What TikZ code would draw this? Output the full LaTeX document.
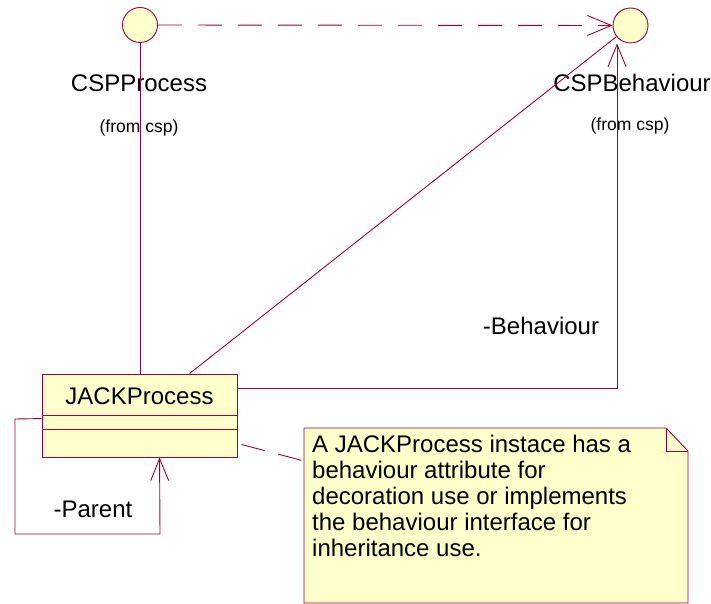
\documentclass[tikz,border=0pt]{standalone}
\usepackage{fontspec}
\setmainfont{Liberation Sans}
\usetikzlibrary{shapes.geometric,arrows.meta,calc}
\definecolor{umlline}{RGB}{160,0,55}
\definecolor{umlfill}{RGB}{255,255,204}
\begin{document}
\begin{tikzpicture}[x=1pt,y=-1pt,
  line/.style={draw=umlline, line width=0.9pt},
  iface/.style={circle, draw=umlline, fill=umlfill, line width=0.9pt, minimum size=35pt, inner sep=0pt},
  classbox/.style={rectangle, draw=umlline, fill=umlfill, line width=0.9pt, minimum width=195pt, minimum height=83pt, inner sep=0pt},
  lbl/.style={font=\fontsize{24}{26}\selectfont, inner sep=0pt, anchor=base},
  small/.style={font=\fontsize{17.5}{20}\selectfont, inner sep=0pt, anchor=base},
  barb/.style={-{Straight Barb[length=24pt,width=20pt]}},
  notetxt/.style={font=\fontsize{24}{26}\selectfont, inner sep=0pt, anchor=north west, align=left}
]
\useasboundingbox (0,0) rectangle (711,604);
% interfaces
\node[iface] (cspp) at (140,25) {};
\node[iface] (cspb) at (630.5,25.5) {};
\node[lbl] (lp) at (139,92) {CSPProcess};
\node[small] (fp) at (139,133) {(from csp)};
\node[lbl] (lb) at (632,92) {CSPBehaviour};
\node[small] (fb) at (630,131) {(from csp)};
% class
\node[classbox] (jack) at (139.5,415.5) {};
\node[lbl] (jn) at (139.5,404) {JACKProcess};
\draw[line] ($(jack.north west)+(0,42)$) -- ($(jack.north east)+(0,42)$);
\draw[line] ($(jack.north west)+(0,56)$) -- ($(jack.north east)+(0,56)$);
% note
\draw[line, fill=umlfill] (304,428) -- (666,428) -- (688,451) -- (688,603) -- (304,603) -- cycle;
\draw[line] (666,428) -- (666,451) -- (688,451);
\node[notetxt] (note) at (312,435) {A JACKProcess instace has a\\behaviour attribute for\\decoration use or implements\\the behaviour interface for\\inheritance use.};
\coordinate (nw) at (304,461);
% connectors
\draw[line, dash pattern=on 24pt off 16pt, barb] (cspp.east) -- (cspb.west);
\draw[line] (cspp.south) -- (cspp.south |- jack.north);
\coordinate (jtop) at ($(jack.north west)+(148,0)$);
\draw[line] (jtop) -- (cspb);
\coordinate (jr) at ($(jack.north east)+(0,15)$);
\coordinate (bt) at ($(cspb.south)+(-13.5,0)$);
\draw[line, -{Straight Barb[length=22pt,width=18pt]}] (jr) -| (bt);
\coordinate (jl) at ($(jack.north west)+(0,45)$);
\coordinate (jb) at ($(jack.south west)+(118,0)$);
\draw[line, -{Straight Barb[length=22pt,width=18pt]}] (jl) -- (15,419) -- (15,534) -- (160,534) -- (jb);
\draw[line, dash pattern=on 24pt off 14pt] ($(jack.south east)+(4,-13)$) -- (nw);
% role labels
\node[lbl] (beh) at (541,334) {-Behaviour};
\node[lbl] (par) at (93,517) {-Parent};
\end{tikzpicture}
\end{document}
